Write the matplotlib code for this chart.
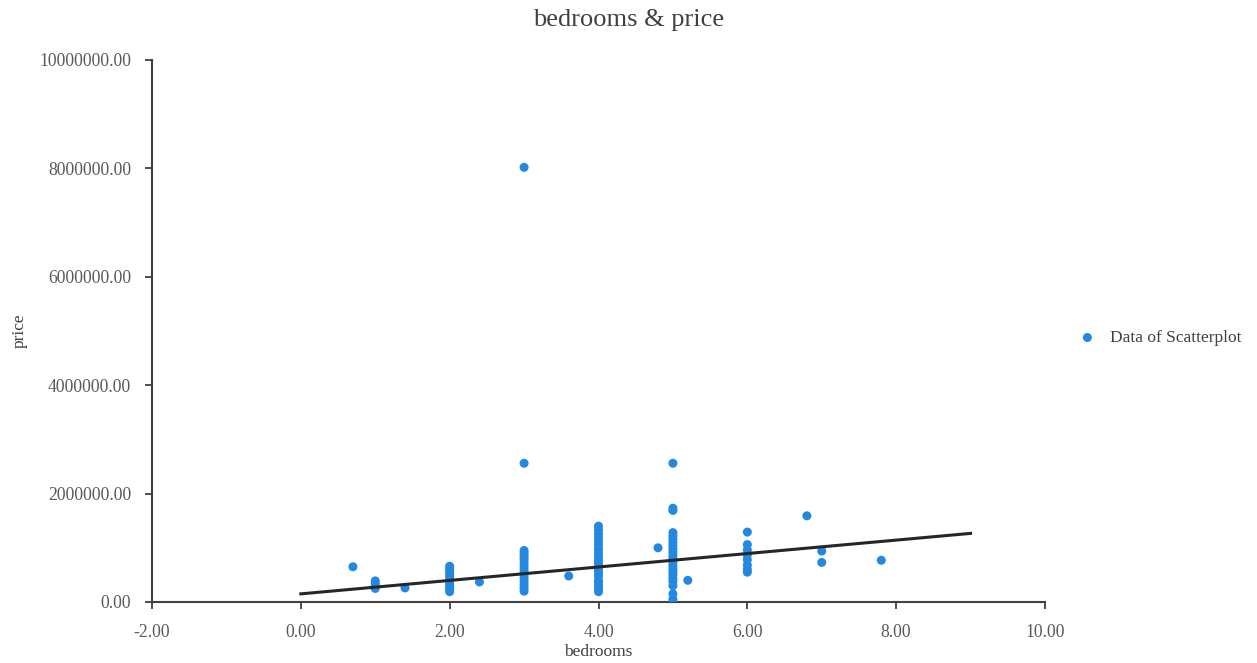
import matplotlib
matplotlib.use("Agg")
import matplotlib.pyplot as plt
from matplotlib.ticker import FuncFormatter

plt.rcParams['font.family'] = ['Liberation Serif', 'DejaVu Serif']

# ---- data ----
bedrooms = [0.7,
            1, 1, 1, 1,
            1.4,
            2, 2, 2, 2, 2, 2, 2, 2, 2, 2, 2,
            2.4,
            3, 3, 3, 3, 3, 3, 3, 3, 3, 3, 3, 3, 3, 3, 3, 3,
            3.6,
            4, 4, 4, 4, 4, 4, 4, 4, 4, 4, 4, 4, 4, 4, 4, 4, 4, 4, 4, 4,
            4.8,
            5, 5, 5, 5, 5, 5, 5, 5, 5, 5, 5, 5, 5, 5, 5, 5, 5, 5, 5, 5, 5, 5,
            5.2,
            6, 6, 6, 6, 6, 6, 6, 6,
            6.8,
            7, 7,
            7.8]
price = [650000,
         390000, 340000, 290000, 250000,
         260000,
         660000, 610000, 560000, 510000, 460000, 410000, 360000, 310000, 260000, 220000, 190000,
         370000,
         8020000, 2560000, 950000, 900000, 850000, 800000, 740000, 680000, 620000, 560000,
         500000, 440000, 380000, 320000, 260000, 200000,
         480000,
         1400000, 1330000, 1260000, 1190000, 1120000, 1050000, 980000, 910000, 840000, 780000,
         720000, 660000, 600000, 540000, 480000, 400000, 360000, 300000, 240000, 190000,
         1000000,
         2560000, 1730000, 1690000, 1280000, 1220000, 1160000, 1100000, 1040000, 980000, 920000,
         860000, 800000, 740000, 680000, 620000, 560000, 500000, 440000, 380000, 300000, 150000, 50000,
         400000,
         1290000, 1060000, 960000, 870000, 780000, 680000, 600000, 550000,
         1590000,
         940000, 730000,
         770000]

trend_intercept = 150000
trend_slope = 124000
trend_x_range = [0, 9]

x_ticks = [-2, 0, 2, 4, 6, 8, 10]
y_ticks = [0, 2000000, 4000000, 6000000, 8000000, 10000000]

# ---- figure ----
W, H = 1257, 663
fig = plt.figure(figsize=(W / 100, H / 100), dpi=100)
ax = fig.add_axes([152 / W, 1 - 602 / H, (1045 - 152) / W, (602 - 60) / H])

ax.scatter(bedrooms, price, s=42, color='#2389e0', edgecolors='none',
           label='Data of Scatterplot', zorder=3)
tx = trend_x_range
ty = [trend_intercept + trend_slope * v for v in tx]
ax.plot(tx, ty, color='#262626', lw=2.2, zorder=4)

ax.set_xlim(-2, 10)
ax.set_ylim(0, 10000000)
ax.set_xticks(x_ticks)
ax.set_yticks(y_ticks)
ax.xaxis.set_major_formatter(FuncFormatter(lambda v, p: f"{v:.2f}"))
ax.yaxis.set_major_formatter(FuncFormatter(lambda v, p: f"{v:.2f}"))

for s in ['top', 'right']:
    ax.spines[s].set_visible(False)
for s in ['left', 'bottom']:
    ax.spines[s].set_color('#404040')
    ax.spines[s].set_linewidth(1.5)
ax.tick_params(axis='both', direction='out', length=5, width=1.3, color='#404040',
               labelcolor='#595959', labelsize=12.7)
ax.tick_params(axis='y', pad=10)
ax.tick_params(axis='x', pad=11)

ax.set_xlabel('bedrooms', fontsize=12.5, color='#404040', labelpad=2)
ax.set_ylabel('price', fontsize=12.5, color='#404040', labelpad=8)
fig.text(0.5, 1 - 20 / H, 'bedrooms & price', fontsize=19, color='#404040',
         ha='center', va='center')

leg = fig.legend(loc='center left', bbox_to_anchor=(1070 / W, 1 - 338 / H), frameon=False,
                 fontsize=12.5, handletextpad=0.3, borderaxespad=0, borderpad=0)
for t in leg.get_texts():
    t.set_color('#404040')

fig.savefig('out.png', dpi=100, facecolor='white')
